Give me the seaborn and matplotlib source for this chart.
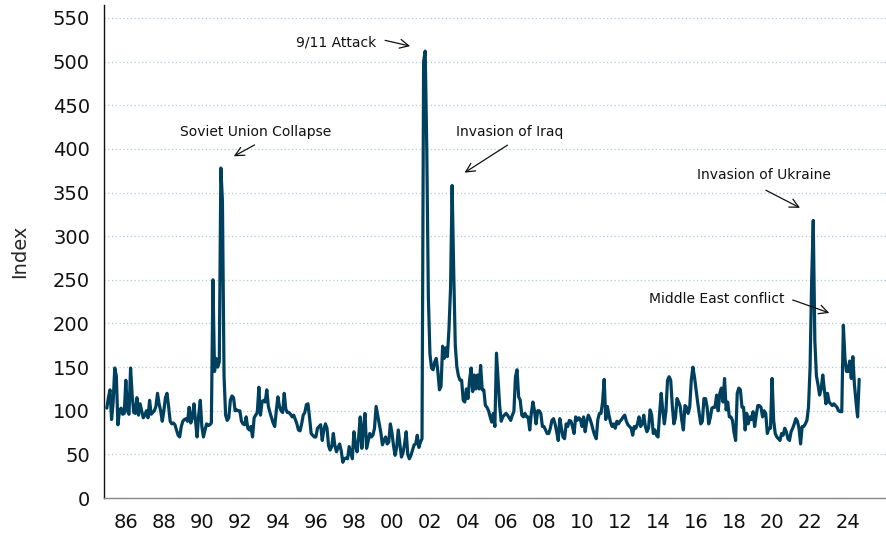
import numpy as np
import pandas as pd
import matplotlib
matplotlib.use('Agg')
import matplotlib.pyplot as plt
import seaborn as sns

# monthly index values, Jan 1985 - Aug 2024
gpr_1985 = [103, 115, 124, 90, 110, 149, 140, 84, 100, 103, 96, 97]
gpr_1986 = [135, 100, 96, 149, 118, 98, 97, 115, 95, 108, 100, 92]
gpr_1987 = [95, 100, 92, 112, 96, 98, 100, 105, 120, 108, 100, 88]
gpr_1988 = [100, 115, 120, 105, 88, 85, 86, 84, 78, 72, 70, 82]
gpr_1989 = [88, 90, 91, 88, 104, 86, 92, 108, 88, 70, 95, 112]
gpr_1990 = [82, 70, 78, 85, 83, 84, 86, 250, 145, 160, 150, 156]
gpr_1991 = [378, 340, 140, 95, 89, 92, 112, 117, 115, 100, 101, 100]
gpr_1992 = [100, 88, 85, 84, 93, 80, 78, 82, 70, 92, 95, 98]
gpr_1993 = [127, 95, 110, 112, 110, 124, 105, 98, 92, 86, 82, 100]
gpr_1994 = [116, 105, 100, 98, 120, 102, 98, 98, 96, 93, 95, 90]
gpr_1995 = [85, 78, 77, 85, 95, 98, 107, 108, 92, 74, 72, 70]
gpr_1996 = [70, 80, 82, 84, 66, 78, 85, 80, 60, 55, 59, 74]
gpr_1997 = [60, 53, 58, 62, 54, 41, 45, 46, 45, 59, 52, 45]
gpr_1998 = [76, 60, 53, 70, 93, 57, 80, 97, 57, 65, 74, 70]
gpr_1999 = [72, 80, 105, 95, 85, 75, 61, 66, 70, 62, 64, 85]
gpr_2000 = [75, 60, 49, 58, 78, 62, 47, 52, 62, 76, 50, 45]
gpr_2001 = [49, 55, 61, 62, 72, 58, 64, 68, 500, 512, 400, 230]
gpr_2002 = [165, 149, 147, 156, 160, 145, 124, 128, 174, 160, 172, 162]
gpr_2003 = [193, 240, 358, 260, 175, 150, 140, 135, 135, 112, 110, 125]
gpr_2004 = [114, 135, 149, 122, 141, 125, 141, 125, 152, 124, 124, 106]
gpr_2005 = [104, 100, 93, 87, 97, 82, 166, 135, 106, 88, 93, 95]
gpr_2006 = [97, 95, 92, 89, 95, 99, 139, 147, 116, 112, 95, 93]
gpr_2007 = [97, 93, 93, 78, 97, 110, 100, 85, 100, 100, 97, 82]
gpr_2008 = [82, 78, 74, 74, 80, 89, 91, 85, 76, 66, 91, 80]
gpr_2009 = [70, 68, 85, 82, 89, 88, 82, 74, 93, 89, 92, 90]
gpr_2010 = [82, 93, 76, 88, 95, 91, 85, 78, 72, 68, 90, 97]
gpr_2011 = [97, 110, 136, 90, 105, 95, 87, 82, 85, 80, 88, 85]
gpr_2012 = [88, 90, 93, 95, 88, 84, 82, 80, 72, 82, 80, 85]
gpr_2013 = [93, 82, 85, 95, 82, 76, 80, 101, 95, 74, 78, 72]
gpr_2014 = [70, 97, 120, 100, 85, 100, 135, 139, 135, 106, 85, 92]
gpr_2015 = [114, 110, 105, 89, 78, 106, 104, 97, 104, 135, 150, 139]
gpr_2016 = [124, 110, 97, 85, 88, 114, 114, 104, 85, 92, 103, 104]
gpr_2017 = [104, 118, 100, 120, 126, 110, 137, 101, 110, 93, 93, 89]
gpr_2018 = [75, 66, 120, 126, 124, 104, 104, 78, 97, 85, 93, 90]
gpr_2019 = [99, 82, 95, 106, 106, 104, 93, 100, 97, 74, 80, 80]
gpr_2020 = [137, 89, 74, 70, 68, 66, 74, 72, 80, 76, 68, 66]
gpr_2021 = [76, 80, 85, 91, 88, 80, 62, 82, 82, 85, 89, 104]
gpr_2022 = [150, 250, 318, 180, 140, 130, 118, 125, 141, 125, 108, 120]
gpr_2023 = [110, 108, 106, 108, 106, 104, 100, 99, 99, 198, 160, 145]
gpr_2024 = [145, 157, 137, 162, 130, 110, 93, 136]

tick_years = list(range(1986, 2025, 2))
tick_labels = ['%02d' % (y % 100) for y in tick_years]

# (label, text pos, arrow tail, arrow head) in data units
events = [
    ('Soviet Union Collapse', (1992.85, 419), (1992.9, 406), (1991.55, 390)),
    ('9/11 Attack', (1997.05, 522), (1999.5, 525), (2001.1, 517)),
    ('Invasion of Iraq', (2006.2, 419), (2006.2, 406), (2003.7, 371)),
    ('Invasion of Ukraine', (2019.55, 370), (2019.55, 354), (2021.6, 331)),
    ('Middle East conflict', (2017.1, 228), (2020.95, 228), (2023.15, 211)),
]

values = (gpr_1985 + gpr_1986 + gpr_1987 + gpr_1988 + gpr_1989 + gpr_1990 + gpr_1991 + gpr_1992
          + gpr_1993 + gpr_1994 + gpr_1995 + gpr_1996 + gpr_1997 + gpr_1998 + gpr_1999 + gpr_2000
          + gpr_2001 + gpr_2002 + gpr_2003 + gpr_2004 + gpr_2005 + gpr_2006 + gpr_2007 + gpr_2008
          + gpr_2009 + gpr_2010 + gpr_2011 + gpr_2012 + gpr_2013 + gpr_2014 + gpr_2015 + gpr_2016
          + gpr_2017 + gpr_2018 + gpr_2019 + gpr_2020 + gpr_2021 + gpr_2022 + gpr_2023 + gpr_2024)
df = pd.DataFrame({'year': 1985 + np.arange(len(values)) / 12.0, 'index': values})

sns.set_style('white')
plt.rcParams['font.family'] = ['DejaVu Sans']

fig = plt.figure(figsize=(8.87, 5.35), dpi=100)
ax = fig.add_axes([0.117, 0.069, 0.882, 0.922])

sns.lineplot(data=df, x='year', y='index', color='#00405f', linewidth=2.3, ax=ax)

ax.set_xlim(1984.84, 2026)
ax.set_ylim(0, 565)
ax.set_yticks(range(0, 551, 50))
ax.set_xticks(tick_years)
ax.set_xticklabels(tick_labels)
ax.yaxis.grid(True, linestyle=(0, (1, 2)), color='#b4cad6', linewidth=0.9)
ax.xaxis.grid(False)
ax.set_axisbelow(True)

ax.tick_params(axis='both', which='major', direction='out', length=6, width=1,
               color='#888888', labelsize=14, labelcolor='#111111', pad=4)
ax.tick_params(axis='x', pad=5)
ax.set_xlabel('')
ax.set_ylabel('Index', fontsize=14, labelpad=17)

sns.despine(ax=ax)
ax.spines['left'].set_color('#111111')
ax.spines['left'].set_linewidth(1.0)
ax.spines['bottom'].set_color('#888888')
ax.spines['bottom'].set_linewidth(1.0)

for label, txt, tail, head in events:
    ax.text(txt[0], txt[1], label, fontsize=10, color='#111111', ha='center', va='center')
    ax.annotate('', xy=head, xytext=tail,
                arrowprops=dict(arrowstyle='->', color='#111111', lw=0.9, mutation_scale=16))

fig.savefig('out.png', dpi=100)
